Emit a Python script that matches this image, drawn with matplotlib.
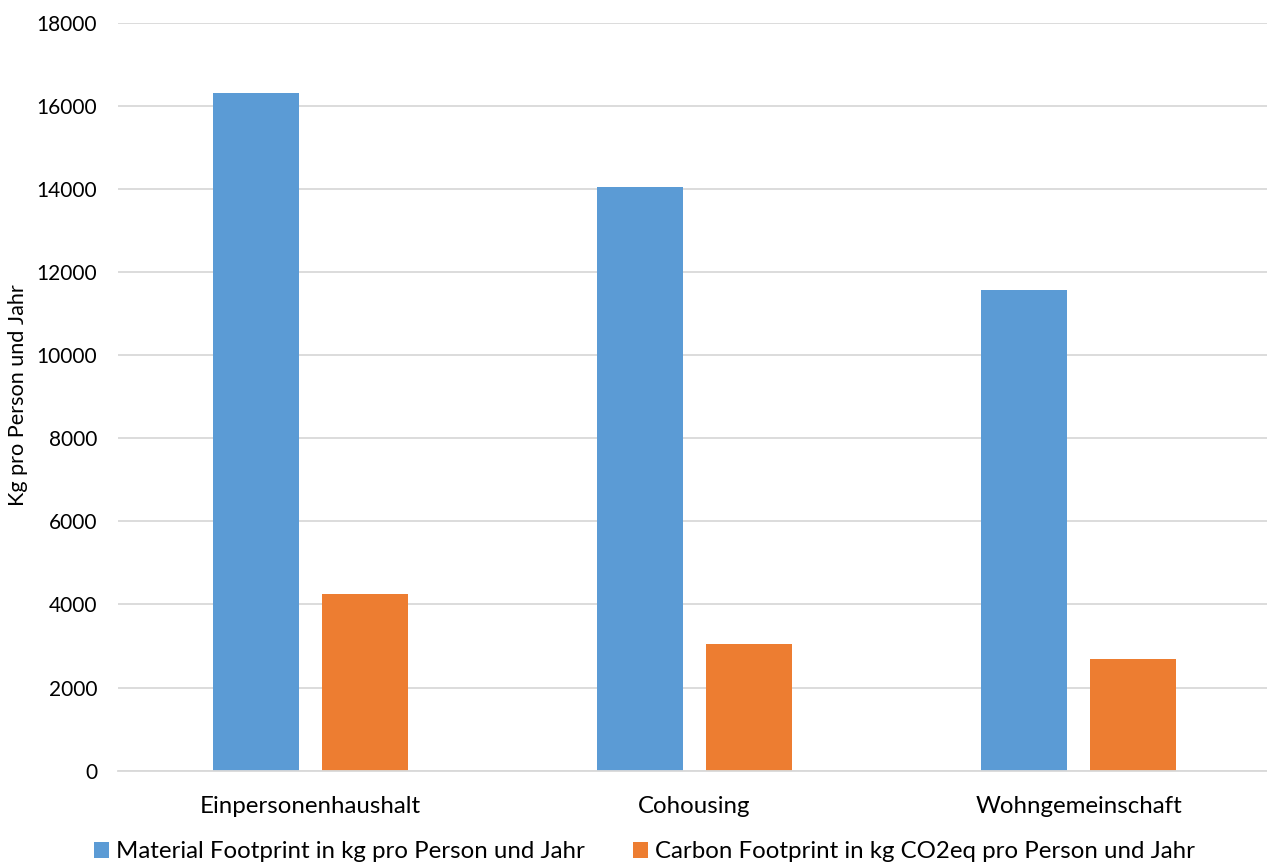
import numpy as np
import matplotlib
matplotlib.use('Agg')
import matplotlib.pyplot as plt

plt.rcParams['font.family'] = ['Lato', 'DejaVu Sans']

categories = ['Einpersonenhaushalt', 'Cohousing', 'Wohngemeinschaft']
material = [16310, 14050, 11570]
carbon = [4250, 3045, 2700]
label_material = 'Material Footprint in kg pro Person und Jahr'
label_carbon = 'Carbon Footprint in kg CO2eq pro Person und Jahr'

blue = '#5B9BD5'
orange = '#ED7D31'
grid = '#D9D9D9'

fig = plt.figure(figsize=(12.67, 8.66), dpi=100)
ax = fig.add_axes([118 / 1267, 95.3 / 866, 1149 / 1267, 748 / 866])

x = np.arange(len(categories))
w = 0.224
off = 0.142
b1 = ax.bar(x - off, material, w, color=blue, label=label_material, zorder=2)
b2 = ax.bar(x + off, carbon, w, color=orange, label=label_carbon, zorder=2)

ax.set_xlim(-0.5, 2.49)
ax.set_ylim(0, 18000)
ax.set_yticks(np.arange(0, 18001, 2000))
ax.set_xticks(x)
ax.set_xticklabels(categories)
ax.yaxis.grid(True, color=grid, linewidth=1.3, zorder=0)
ax.set_axisbelow(True)
for s in ['top', 'right', 'left']:
    ax.spines[s].set_visible(False)
ax.spines['bottom'].set_color(grid)
ax.spines['bottom'].set_linewidth(1.3)
ax.tick_params(axis='both', length=0, colors='black')
ax.tick_params(axis='y', pad=15, labelsize=15)
ax.tick_params(axis='x', pad=18, labelsize=17.3)

fig.text(18 / 1267, 1 - 395 / 866, 'Kg pro Person und Jahr', rotation=90,
         ha='center', va='center', fontsize=15.6)

fig.legend(handles=[b1, b2], loc='center', bbox_to_anchor=(0.509, 14 / 866),
           ncol=2, frameon=False, fontsize=17.3, handlelength=0.62,
           handleheight=0.62, handletextpad=0.3, columnspacing=2.0)

fig.savefig('out.png', dpi=100)
